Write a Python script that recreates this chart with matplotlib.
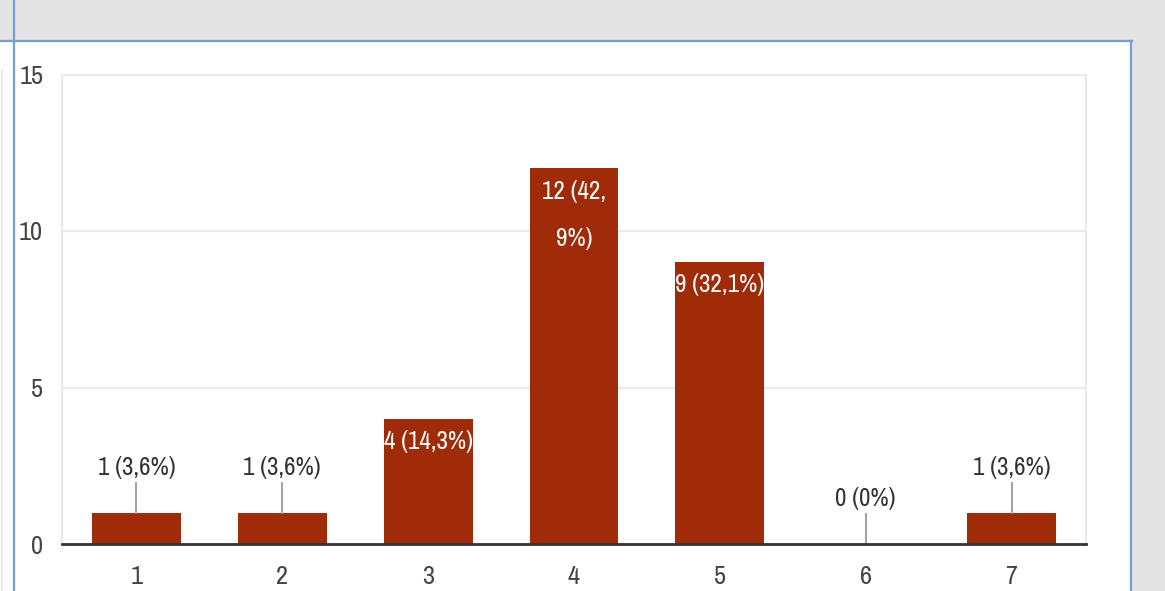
import matplotlib
matplotlib.use("Agg")
import matplotlib.pyplot as plt
from matplotlib import font_manager as fm
from matplotlib.patches import Rectangle
from matplotlib.lines import Line2D

# данные с картинки
categories = [1, 2, 3, 4, 5, 6, 7]
counts = [1, 1, 4, 12, 9, 0, 1]
labels = ["1 (3,6%)", "1 (3,6%)", "4 (14,3%)", "12 (42,\n9%)", "9 (32,1%)", "0 (0%)", "1 (3,6%)"]
yticks = [0, 5, 10, 15]

W, H = 1165, 591

# узкий шрифт, похожий на Arial Narrow
preferred = ['Liberation Sans Narrow', 'Arial Narrow', 'Archivo Narrow', 'Roboto Condensed',
             'PT Sans Narrow', 'Open Sans Condensed']
installed = {f.name: f.stretch for f in fm.fontManager.ttflist if f.style == 'normal'}
narrow = next((n for n in preferred if n in installed), None)
if narrow:
    plt.rcParams['font.family'] = [narrow, 'DejaVu Sans']
    plt.rcParams['font.stretch'] = installed[narrow]
    fs = 18
else:
    plt.rcParams['font.family'] = ['Liberation Sans', 'DejaVu Sans']
    fs = 15

fig = plt.figure(figsize=(W / 100, H / 100), dpi=100, facecolor='#e4e4e4')


def px(x):
    return x / W


def py(y):
    return 1 - y / H


# белая панель и синяя рамка (под осями)
fig.patches.append(Rectangle((px(15), 0), px(1131) - px(15), py(42), transform=fig.transFigure,
                             facecolor='white', edgecolor='none', zorder=-5))
fig.patches.append(Rectangle((0, 0), px(13), py(42), transform=fig.transFigure,
                             facecolor='white', edgecolor='none', zorder=-5))
blue = '#6fa1d8'
fig.lines.append(Line2D([0, px(1132)], [py(41), py(41)], transform=fig.transFigure, color=blue, lw=1.6, zorder=-4))
fig.lines.append(Line2D([px(14), px(14)], [0, 1], transform=fig.transFigure, color=blue, lw=1.6, zorder=-4))
fig.lines.append(Line2D([px(1131), px(1131)], [0, py(41)], transform=fig.transFigure, color=blue, lw=1.6, zorder=-4))
fig.lines.append(Line2D([px(2), px(2)], [0, py(70)], transform=fig.transFigure, color='#e2e2e2', lw=1.2, zorder=-4))

ax = fig.add_axes([px(62), py(544), px(1086) - px(62), py(74.5) - py(544)])
ax.set_facecolor('white')

bar_color = '#9f2b08'
ax.bar(categories, counts, width=0.61, color=bar_color, zorder=3)

ax.set_xlim(0.49, 7.51)
ax.set_ylim(0, 15)
ax.set_yticks(yticks)
ax.set_xticks(categories)
ax.grid(axis='y', color='#ebebeb', lw=1.6, zorder=0)
ax.set_axisbelow(True)

for s in ['top', 'left', 'right']:
    ax.spines[s].set_color('#ebebeb')
    ax.spines[s].set_linewidth(1.6)
ax.spines['bottom'].set_color('#333333')
ax.spines['bottom'].set_linewidth(2)
ax.spines['bottom'].set_zorder(4)

ax.tick_params(axis='both', length=0, labelsize=fs + 1, colors='#444444')
ax.tick_params(axis='y', pad=13.5)
ax.tick_params(axis='x', pad=15)

# подписи значений: крупные внутри столбца, мелкие сверху с выноской
for x, v, lab in zip(categories, counts, labels):
    if v >= 3:
        ax.annotate(lab, (x, v), xytext=(0, -8), textcoords='offset points',
                    ha='center', va='top', color='white', fontsize=fs,
                    linespacing=2.3, zorder=5)
    else:
        ax.plot([x, x], [v, v + 0.95], color='#999999', lw=1.3, zorder=4)
        ax.text(x, v + 1.46, lab, ha='center', va='center', color='#333333',
                fontsize=fs, zorder=5)

fig.savefig('out.png', dpi=100, facecolor=fig.get_facecolor())
